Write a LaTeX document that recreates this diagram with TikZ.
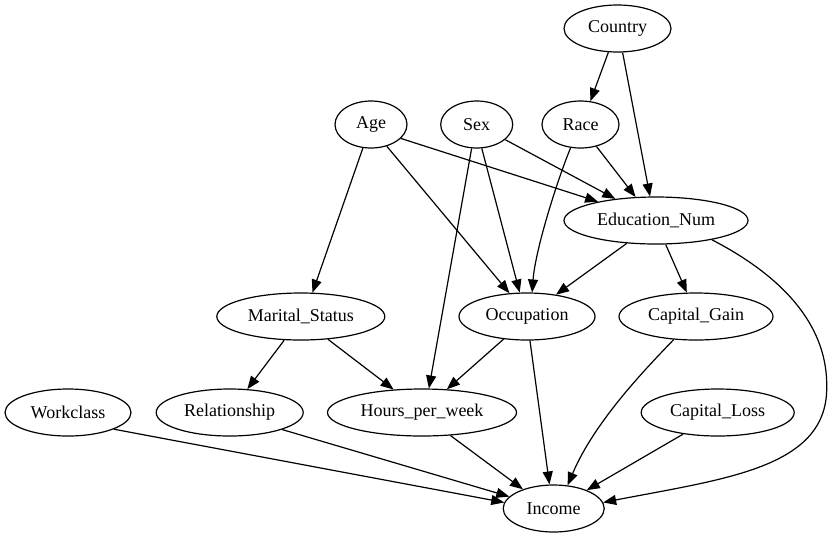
\documentclass[tikz,border=0pt]{standalone}
\usepackage{fontspec}
\setmainfont{Liberation Serif}
\usepackage{tikz}
\usetikzlibrary{
    arrows.meta,
    shapes,
    positioning
}

\begin{document}
\begin{tikzpicture}[x=1pt, y=-1pt,
                        var/.style={draw, ellipse, line width=1.2pt, inner sep=0pt, minimum height=47pt, font=\fontsize{18}{22}\selectfont},
                        arc/.style={line width=1.2pt, -{Triangle[length=13pt, width=10pt]}}]
                        \useasboundingbox (0, 0) rectangle (832, 539);
                        % top rows
                        \node[var, minimum width=107pt] (country) at (617.5, 28.5) {Country};
                        \node[var, minimum width=72pt] (age) at (371, 124.5) {Age};
                        \node[var, minimum width=72pt] (sex) at (476.7, 124.5) {Sex};
                        \node[var, minimum width=77pt] (race) at (580.5, 124.5) {Race};
                        \node[var, minimum width=184pt] (edu) at (656, 220.5) {Education\_Num};
                        \node[var, minimum width=168pt] (marital) at (300.8, 316.5) {Marital\_Status};
                        \node[var, minimum width=136pt] (occ) at (527, 316.5) {Occupation};
                        \node[var, minimum width=154pt] (gain) at (696, 316.5) {Capital\_Gain};
                        % bottom rows
                        \node[var, minimum width=126pt] (work) at (68, 412.5) {Workclass};
                        \node[var, minimum width=147pt] (rel) at (229.7, 412.5) {Relationship};
                        \node[var, minimum width=189pt] (hours) at (422, 412.5) {Hours\_per\_week};
                        \node[var, minimum width=153pt] (loss) at (717.7, 412.5) {Capital\_Loss};
                        \node[var, minimum width=101pt] (income) at (553.7, 508.5) {Income};
                        \coordinate (eduturn) at (826.7, 388);

                        \draw[arc] (country.249.6) -- (race.67.4);
                        \draw[arc] (country.-78.2) -- (edu.104.5);
                        \draw[arc] (age.-25.3) -- (edu.162.9);
                        \draw[arc] (sex.-28.7) -- (edu.152.5);
                        \draw[arc] (race.-54.6) -- (edu.131);
                        \draw[arc] (age.251.5) -- (marital.64.8);
                        \draw[arc] (age.-54) -- (occ.127);
                        \draw[arc] (sex.-78.6) -- (occ.107.3);
                        \draw[arc] (sex.258.6) -- (hours.74.8);
                        \draw[arc] (race.247) .. controls +(-12, 28.7) and +(3.3, -44) .. (occ.78.2);
                        \draw[arc] (edu.218.3) -- (occ.37.1);
                        \draw[arc] (edu.-68.6) -- (gain.111.3);
                        \draw[arc] (edu.-19.4) .. controls +(77.3, 40) and +(1.3, -58) .. (eduturn)
                            .. controls +(0, 80) and +(121.7, -23.7) .. (income.7.8);
                        \draw[arc] (marital.235.2) -- (rel.53.8);
                        \draw[arc] (marital.-40.3) -- (hours.141.9);
                        \draw[arc] (occ.224) -- (hours.43.2);
                        \draw[arc] (occ.-83.2) -- (income.100.6);
                        \draw[arc] (gain.226.8) .. controls +(-23.3, 24.3) and +(27.7, -65.7) .. (income.59.2);
                        \draw[arc] (loss.212) -- (income.29.8);
                        \draw[arc] (work.-20.9) -- (income.173.5);
                        \draw[arc] (rel.-18.2) -- (income.165.3);
                        \draw[arc] (hours.-39.1) -- (income.148.6);
                    \end{tikzpicture}
\end{document}
